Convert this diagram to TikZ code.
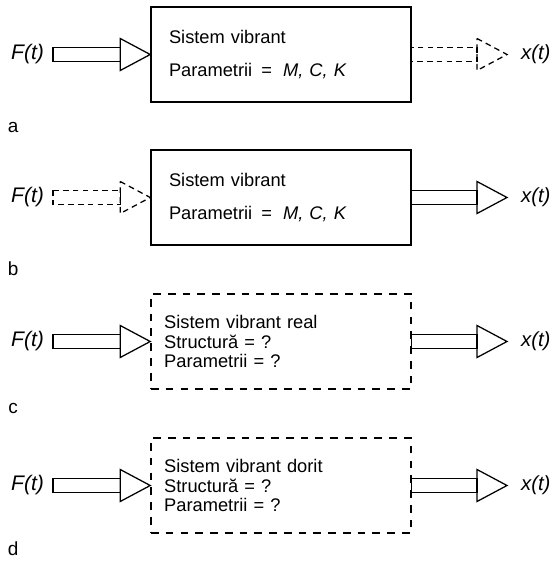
\documentclass[tikz,border=0pt]{standalone}
\usepackage{fontspec}
\setmainfont{Liberation Sans}
\usetikzlibrary{calc,positioning}

\newcommand{\headlen}{0.75}
\newcommand{\blockarrow}[3][]{%
  \draw[arrowline,#1] ($(#2)+(0,0.18)$) rectangle ($(#3)+(-\headlen,-0.18)$);
  \draw[arrowline,#1] ($(#3)+(-\headlen,0.4)$) -- (#3) -- ($(#3)+(-\headlen,-0.4)$) -- cycle;}

\tikzset{
  sysbox/.style={draw, line width=1.1pt, minimum width=6.5cm, minimum height=2.375cm,
    inner xsep=0.45cm, text width=5.6cm, align=left, font=\fontsize{13}{14.2}\selectfont},
  unknownbox/.style={sysbox, dash pattern=on 5.5pt off 5pt, inner xsep=0.33cm, text width=5.84cm},
  arrowline/.style={line width=0.9pt},
  dashedarrow/.style={dash pattern=on 4pt off 3pt},
  inlabel/.style={font=\fontsize{15}{17}\selectfont\itshape, inner sep=2pt, outer sep=4.4pt, anchor=east},
  outlabel/.style={font=\fontsize{14.5}{17}\selectfont\itshape, inner sep=2pt, outer sep=8pt, anchor=west},
  caselabel/.style={font=\fontsize{13.5}{15}\selectfont},
}

\begin{document}
\begin{tikzpicture}
    \useasboundingbox (0,0) rectangle (13.825,-14.125);

    \node[sysbox] (sysA) at (7.025,-1.3625) {Sistem vibrant\\[9.3pt]Parametrii\hspace{0.5em}=\hspace{0.6em}\textit{M, C, K}};
    \node[inlabel] (forceA) at (1.325,-1.3625) {F(t)};
    \node[outlabel] (respA) at (12.675,-1.3625) {x(t)};
    \blockarrow{forceA.east}{sysA.west}
    \blockarrow[dashedarrow]{sysA.east}{respA.west}
    \node[caselabel] (labA) at (0.33,-3.18) {a};

    \node[sysbox] (sysB) at (7.025,-4.9375) {Sistem vibrant\\[9.3pt]Parametrii\hspace{0.5em}=\hspace{0.6em}\textit{M, C, K}};
    \node[inlabel] (forceB) at (1.325,-4.9375) {F(t)};
    \node[outlabel] (respB) at (12.675,-4.9375) {x(t)};
    \blockarrow[dashedarrow]{forceB.east}{sysB.west}
    \blockarrow{sysB.east}{respB.west}
    \node[caselabel] (labB) at (0.33,-6.73) {b};

    \node[unknownbox] (sysC) at (7.025,-8.5375) {Sistem vibrant real\\Structură = ?\\Parametrii = ?};
    \node[inlabel] (forceC) at (1.325,-8.5375) {F(t)};
    \node[outlabel] (respC) at (12.675,-8.5375) {x(t)};
    \blockarrow{forceC.east}{sysC.west}
    \blockarrow{sysC.east}{respC.west}
    \node[caselabel] (labC) at (0.33,-10.2) {c};

    \node[unknownbox] (sysD) at (7.025,-12.1375) {Sistem vibrant dorit\\Structură = ?\\Parametrii = ?};
    \node[inlabel] (forceD) at (1.325,-12.1375) {F(t)};
    \node[outlabel] (respD) at (12.675,-12.1375) {x(t)};
    \blockarrow{forceD.east}{sysD.west}
    \blockarrow{sysD.east}{respD.west}
    \node[caselabel] (labD) at (0.33,-13.73) {d};
\end{tikzpicture}
\end{document}
